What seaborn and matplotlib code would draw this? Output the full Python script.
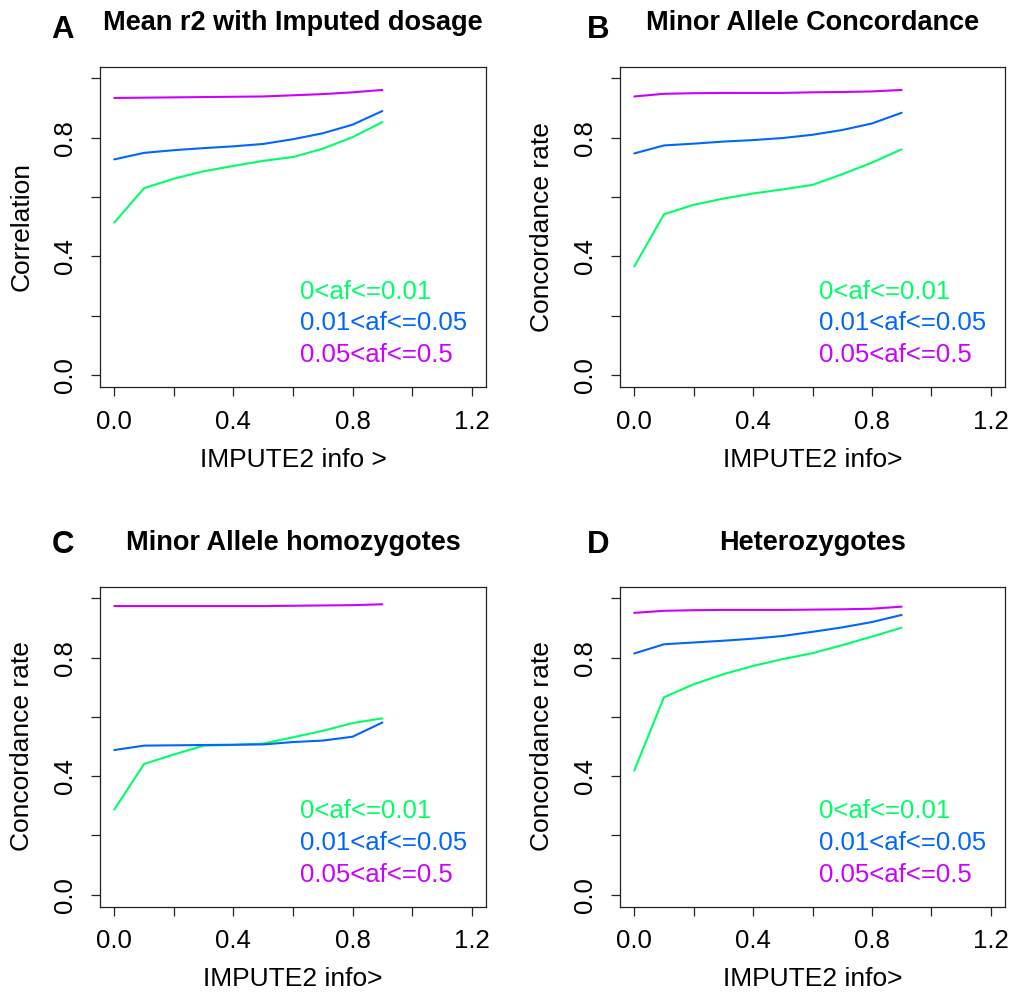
import numpy as np
import pandas as pd
import matplotlib
matplotlib.use("Agg")
import matplotlib.pyplot as plt
import seaborn as sns

# IMPUTE2 info thresholds (x axis)
info_threshold = [0.0, 0.1, 0.2, 0.3, 0.4, 0.5, 0.6, 0.7, 0.8, 0.9]

# allele-frequency bins and their colours
af_bins = ["0<af<=0.01", "0.01<af<=0.05", "0.05<af<=0.5"]
bin_colors = ["#00FF66", "#0066FF", "#CC00FF"]

# A: mean r2 with imputed dosage
r2_low = [0.514, 0.630, 0.662, 0.687, 0.705, 0.722, 0.735, 0.763, 0.802, 0.853]
r2_mid = [0.727, 0.749, 0.758, 0.765, 0.771, 0.779, 0.795, 0.815, 0.844, 0.890]
r2_high = [0.934, 0.935, 0.936, 0.937, 0.938, 0.939, 0.943, 0.947, 0.953, 0.961]

# B: minor allele concordance
mac_low = [0.366, 0.542, 0.574, 0.595, 0.612, 0.626, 0.641, 0.677, 0.716, 0.761]
mac_mid = [0.747, 0.774, 0.780, 0.787, 0.792, 0.799, 0.810, 0.826, 0.848, 0.884]
mac_high = [0.939, 0.948, 0.950, 0.951, 0.951, 0.951, 0.953, 0.954, 0.956, 0.961]

# C: minor allele homozygotes
hom_low = [0.287, 0.441, 0.473, 0.503, 0.505, 0.510, 0.531, 0.553, 0.579, 0.595]
hom_mid = [0.488, 0.503, 0.504, 0.505, 0.506, 0.507, 0.515, 0.520, 0.533, 0.581]
hom_high = [0.974, 0.974, 0.974, 0.974, 0.974, 0.974, 0.975, 0.976, 0.977, 0.980]

# D: heterozygotes
het_low = [0.419, 0.666, 0.710, 0.744, 0.772, 0.795, 0.815, 0.842, 0.871, 0.901]
het_mid = [0.814, 0.845, 0.851, 0.857, 0.864, 0.873, 0.887, 0.902, 0.920, 0.944]
het_high = [0.951, 0.958, 0.960, 0.961, 0.961, 0.961, 0.962, 0.963, 0.965, 0.972]

panel_letters = ["A", "B", "C", "D"]
panel_titles = ["Mean r2 with Imputed dosage", "Minor Allele Concordance",
                "Minor Allele homozygotes", "Heterozygotes"]
y_labels = ["Correlation", "Concordance rate", "Concordance rate", "Concordance rate"]
x_labels = ["IMPUTE2 info >", "IMPUTE2 info>", "IMPUTE2 info>", "IMPUTE2 info>"]

x_ticks = [0.0, 0.2, 0.4, 0.6, 0.8, 1.0, 1.2]
x_tick_labels = ["0.0", "", "0.4", "", "0.8", "", "1.2"]
y_ticks = [0.0, 0.2, 0.4, 0.6, 0.8, 1.0]
y_tick_labels = ["0.0", "", "0.4", "", "0.8", ""]

panel_series = [(r2_low, r2_mid, r2_high), (mac_low, mac_mid, mac_high),
                (hom_low, hom_mid, hom_high), (het_low, het_mid, het_high)]

sns.set_style("ticks")
plt.rcParams["font.family"] = ["Liberation Sans", "DejaVu Sans"]

W, H = 1014, 994
fig = plt.figure(figsize=(W / 100, H / 100), dpi=100)

# axes boxes in pixels: (left, top, right, bottom)
boxes = [(100, 66.5, 486, 387), (620, 66.5, 1005, 387),
         (100, 586.5, 486, 906.5), (620, 586.5, 1005, 906.5)]
letter_pos = [(63, 30), (598, 30), (63, 545), (598, 545)]

frame_col = "#222222"

for i, (series, box) in enumerate(zip(panel_series, boxes)):
    l, t, r, b = box
    w_px, h_px = r - l, b - t
    ax = fig.add_axes([l / W, 1 - b / H, w_px / W, h_px / H])

    df = pd.DataFrame({
        "info": info_threshold * 3,
        "value": np.concatenate(series),
        "bin": np.repeat(af_bins, len(info_threshold)),
    })
    sns.lineplot(data=df, x="info", y="value", hue="bin", hue_order=af_bins,
                 palette=bin_colors, linewidth=1.5, legend=False, ax=ax)

    ax.set_xlim(-0.048, 1.248)
    ax.set_ylim(-0.04, 1.04)
    ax.set_xticks(x_ticks)
    ax.set_xticklabels(x_tick_labels)
    ax.set_yticks(y_ticks)
    ax.set_yticklabels(y_tick_labels, rotation=90, va="center")
    ax.tick_params(direction="out", length=6.5, width=0.9, color=frame_col,
                   labelsize=18.5, labelcolor="black")
    ax.tick_params(axis="x", pad=10)
    ax.tick_params(axis="y", pad=10)
    for sp in ax.spines.values():
        sp.set_visible(True)
        sp.set_color(frame_col)
        sp.set_linewidth(0.9)

    ax.set_xlabel(x_labels[i], fontsize=19, color="black")
    ax.set_ylabel(y_labels[i], fontsize=19, color="black")
    ax.xaxis.set_label_coords(0.5, -73 / h_px)
    ax.xaxis.label.set_va("center")
    ax.yaxis.set_label_coords(-78 / w_px, 0.5)
    ax.yaxis.label.set_va("center")

    ax.set_title(panel_titles[i], fontsize=19.5, fontweight="bold",
                 color="black", y=1 + 43.5 / h_px, pad=0, va="center")

    # colour-coded key in the lower right
    for k, (lab, col) in enumerate(zip(af_bins, bin_colors)):
        ax.text(0.518, 0.297 - 0.0987 * k, lab, color=col, fontsize=18.5,
                ha="left", va="center", transform=ax.transAxes)

    lx, ly = letter_pos[i]
    fig.text(lx / W, 1 - ly / H, panel_letters[i], fontsize=22.5,
             fontweight="bold", ha="center", va="center", color="black")

fig.savefig("out.png", dpi=100, facecolor="white")
